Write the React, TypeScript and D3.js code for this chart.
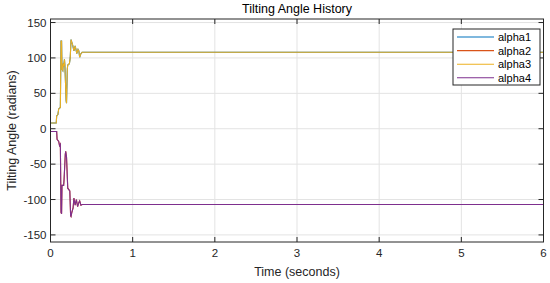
import React from "react";
import * as d3 from "d3";

const seriesNames = ["alpha1", "alpha2", "alpha3", "alpha4"];
const seriesColors = ["#0072BD", "#D95319", "#EDB120", "#7E2F8E"];

const posTime = [0, 0.07, 0.075, 0.09, 0.1, 0.12, 0.128, 0.135, 0.14, 0.15, 0.155, 0.16, 0.17, 0.175, 0.19, 0.195, 0.205, 0.21, 0.23, 0.24, 0.25, 0.26, 0.27, 0.285, 0.3, 0.31, 0.32, 0.335, 0.345, 0.355, 0.37, 0.385, 6];
const posValues = [8, 8, 18, 20, 28, 30, 124, 124, 84, 82, 92, 88, 98, 90, 40, 36, 85, 90, 92, 100, 126, 122, 118, 110, 117, 112, 106, 112, 110, 101, 106, 108, 108];

const negTime = [0, 0.075, 0.08, 0.1, 0.11, 0.12, 0.128, 0.135, 0.14, 0.16, 0.165, 0.18, 0.185, 0.195, 0.21, 0.235, 0.245, 0.25, 0.26, 0.275, 0.285, 0.3, 0.315, 0.33, 0.345, 0.355, 0.37, 0.385, 6];
const negValues = [-4, -4, -15, -18, -24, -22, -118, -120, -80, -80, -72, -36, -32, -40, -84, -88, -123, -124, -118, -112, -98, -108, -100, -110, -104, -102, -108, -107, -107];

const alpha1 = posValues;
const alpha2 = negValues;
const alpha3 = posValues;
const alpha4 = negValues;
const seriesData = [
  { t: posTime, v: alpha1 },
  { t: negTime, v: alpha2 },
  { t: posTime, v: alpha3 },
  { t: negTime, v: alpha4 },
];

const xTicks = [0, 1, 2, 3, 4, 5, 6];
const yTicks = [-150, -100, -50, 0, 50, 100, 150];

const W = 550, H = 283;
const L = 50.5, R = 543.5, T = 19, B = 242;
const FONT = "'Liberation Sans', Arial, Helvetica, sans-serif";
const AX = "#262626";

export default function App() {
  const x = d3.scaleLinear().domain([0, 6]).range([L, R]);
  const y = d3.scaleLinear().domain([-160, 155]).range([B, T]);
  const line = d3.line<[number, number]>().x((d) => x(d[0])).y((d) => y(d[1]));
  const tl = 5;
  const legX = 453, legY = 29, legW = 87, legH = 56;
  const rowY = (i: number) => legY + 8 + i * 13.6;

  return (
    <svg width={W} height={H} style={{ position: "absolute", left: 0, top: 0, background: "#fff" }}>
      <rect x={0} y={0} width={W} height={H} fill="#fff" />
      {/* grid */}
      {xTicks.map((t) => (
        <line key={"gx" + t} x1={x(t)} x2={x(t)} y1={T} y2={B} stroke="#e3e3e3" strokeWidth={1} />
      ))}
      {yTicks.map((t) => (
        <line key={"gy" + t} x1={L} x2={R} y1={y(t)} y2={y(t)} stroke="#e3e3e3" strokeWidth={1} />
      ))}
      {/* data */}
      {seriesData.map((s, i) => (
        <path
          key={seriesNames[i]}
          d={line(s.t.map((t, j) => [t, s.v[j]] as [number, number])) || ""}
          fill="none"
          stroke={seriesColors[i]}
          strokeWidth={1.1}
        />
      ))}
      {/* frame */}
      <rect x={L} y={T} width={R - L} height={B - T} fill="none" stroke={AX} strokeWidth={1} />
      {/* ticks */}
      {xTicks.map((t) => (
        <g key={"tx" + t}>
          <line x1={x(t)} x2={x(t)} y1={B} y2={B - tl} stroke={AX} />
          <line x1={x(t)} x2={x(t)} y1={T} y2={T + tl} stroke={AX} />
          <text x={x(t)} y={B + 15} textAnchor="middle" fontSize={11.5} fontFamily={FONT} fill={AX}>
            {t}
          </text>
        </g>
      ))}
      {yTicks.map((t) => (
        <g key={"ty" + t}>
          <line x1={L} x2={L + tl} y1={y(t)} y2={y(t)} stroke={AX} />
          <line x1={R} x2={R - tl} y1={y(t)} y2={y(t)} stroke={AX} />
          <text x={L - 4} y={y(t) + 4} textAnchor="end" fontSize={11.5} fontFamily={FONT} fill={AX}>
            {t}
          </text>
        </g>
      ))}
      {/* labels */}
      <text x={(L + R) / 2} y={13} textAnchor="middle" fontSize={12.5} fontFamily={FONT} fill="#000">
        Tilting Angle History
      </text>
      <text x={(L + R) / 2} y={276} textAnchor="middle" fontSize={12.5} fontFamily={FONT} fill={AX}>
        Time (seconds)
      </text>
      <text
        transform={`translate(16,${(T + B) / 2}) rotate(-90)`}
        textAnchor="middle"
        fontSize={12.5}
        fontFamily={FONT}
        fill={AX}
      >
        Tilting Angle (radians)
      </text>
      {/* legend */}
      <rect x={legX} y={legY} width={legW} height={legH} fill="#fff" stroke={AX} strokeWidth={1} />
      {seriesNames.map((n, i) => (
        <g key={"lg" + n}>
          <line x1={legX + 4} x2={legX + 41} y1={rowY(i)} y2={rowY(i)} stroke={seriesColors[i]} strokeWidth={1.1} />
          <text x={legX + 45} y={rowY(i) + 4} fontSize={11} fontFamily={FONT} fill="#000">
            {n}
          </text>
        </g>
      ))}
    </svg>
  );
}
